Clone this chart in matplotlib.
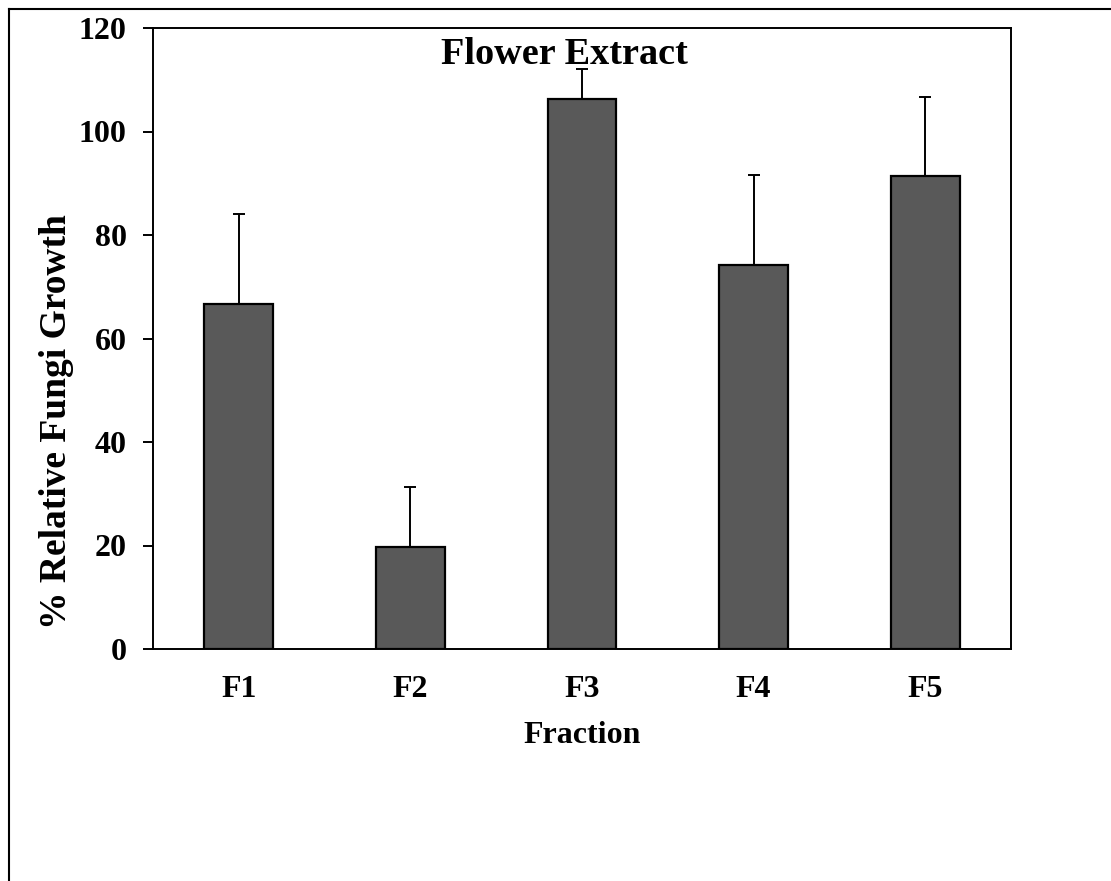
import matplotlib
matplotlib.use("Agg")
import matplotlib.pyplot as plt
from matplotlib.lines import Line2D
import numpy as np

categories = ["F1", "F2", "F3", "F4", "F5"]
values = [66.7, 19.8, 106.3, 74.2, 91.4]
errors = [17.4, 11.6, 5.8, 17.4, 15.3]
yticks = [0, 20, 40, 60, 80, 100, 120]

plt.rcParams['font.family'] = ['Liberation Serif', 'DejaVu Serif']
plt.rcParams['font.weight'] = 'bold'

fig = plt.figure(figsize=(11.11, 8.81), dpi=100)
ax = fig.add_axes([153/1111, 1-649/881, (1011-153)/1111, (649-28)/881])

x = np.arange(len(categories))
ax.bar(x, values, width=0.40, color='#595959', edgecolor='black', linewidth=1.6, zorder=2)
ax.errorbar(x, values, yerr=[np.zeros(len(values)), errors], fmt='none', ecolor='black',
            elinewidth=1.4, capsize=4.3, capthick=1.4, zorder=1)

ax.set_xlim(-0.5, 4.5)
ax.set_ylim(0, 120)
ax.set_yticks(yticks)
ax.set_xticks(x)
ax.set_xticklabels(categories)
for s in ax.spines.values():
    s.set_linewidth(1.4)
ax.tick_params(axis='y', direction='out', length=7, width=1.4, labelsize=23, pad=12)
ax.tick_params(axis='x', length=0, labelsize=23, pad=19)
for lab in ax.get_xticklabels() + ax.get_yticklabels():
    lab.set_fontweight('bold')

ax.set_xlabel("Fraction", fontsize=23, fontweight='bold', labelpad=12)
ax.set_ylabel("% Relative Fungi Growth", fontsize=27, fontweight='bold', va='center', ha='center')
ax.yaxis.set_label_coords((57-153)/858, (649-422)/621)
ax.text((564-153)/858, 1-(54-28)/621, "Flower Extract", transform=ax.transAxes, ha='center', va='center',
        fontsize=27.5, fontweight='bold')

# outer border (left and top)
fig.add_artist(Line2D([9/1111, 9/1111], [0, 1-9/881], transform=fig.transFigure, color='black', lw=1.5))
fig.add_artist(Line2D([9/1111, 1], [1-9/881, 1-9/881], transform=fig.transFigure, color='black', lw=1.5))

fig.savefig("out.png", dpi=100)
